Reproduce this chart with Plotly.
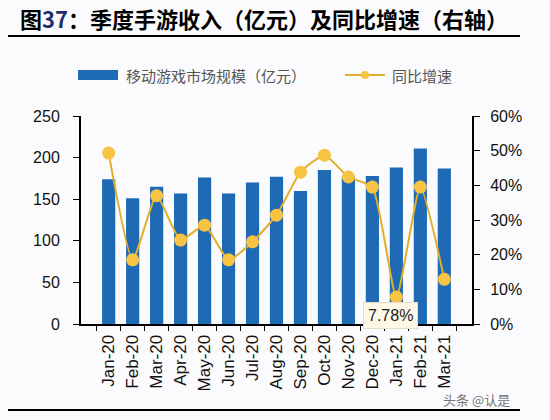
import plotly.graph_objects as go

months = ["Jan-20", "Feb-20", "Mar-20", "Apr-20", "May-20", "Jun-20", "Jul-20", "Aug-20",
          "Sep-20", "Oct-20", "Nov-20", "Dec-20", "Jan-21", "Feb-21", "Mar-21"]
revenue = [174, 151, 165, 157, 176, 157, 170, 177, 160, 185, 178, 178, 188, 211, 187]
yoy = [0.493, 0.185, 0.370, 0.242, 0.285, 0.185, 0.237, 0.314, 0.438, 0.487, 0.424,
       0.395, 0.0778, 0.395, 0.129]

title_text = "图<span style='color:#1F2F6B'>37</span>：季度手游收入（亿元）及同比增速（右轴）"
bar_name = "移动游戏市场规模（亿元）"
line_name = "同比增速"
callout = "7.78%"
watermark = "头条 @认是"

W, H = 550, 420
L, R, T, B = 81, 472, 116, 324


def px(x):
    return (x - L) / (R - L)


def py(y):
    return (B - y) / (B - T)


BLUE = "#1F6AB4"
GOLD = "#F6C342"
GOLD_LINE = "#E0AE2A"

fig = go.Figure()
fig.add_trace(go.Bar(x=months, y=revenue, name=bar_name, marker_color=BLUE,
                     marker_line_width=0, width=0.55, showlegend=False))
fig.add_trace(go.Scatter(x=months, y=yoy, name=line_name, yaxis="y2", mode="lines+markers",
                         line=dict(color=GOLD_LINE, width=2, shape="spline", smoothing=0.5),
                         marker=dict(color=GOLD, size=13), showlegend=False))

font_cjk = "Noto Sans CJK SC"
font_num = "Liberation Sans, Arial"

shapes = [
    dict(type="line", xref="paper", yref="paper", x0=px(8), x1=px(520), y0=py(36), y1=py(36),
         line=dict(color="black", width=2)),
    dict(type="line", xref="paper", yref="paper", x0=px(8), x1=px(520), y0=py(410), y1=py(410),
         line=dict(color="black", width=2)),
    dict(type="rect", xref="paper", yref="paper", x0=px(78), x1=px(118), y0=py(80), y1=py(70),
         fillcolor=BLUE, line=dict(width=0)),
    dict(type="line", xref="paper", yref="paper", x0=px(345), x1=px(385), y0=py(75), y1=py(75),
         line=dict(color=GOLD_LINE, width=2)),
    dict(type="circle", xref="paper", yref="paper", x0=px(361), x1=px(369), y0=py(79), y1=py(71),
         fillcolor=GOLD, line=dict(width=0)),
]

annotations = [
    dict(text="<b>" + title_text + "</b>", xref="paper", yref="paper", x=px(18), y=py(18),
         xanchor="left", yanchor="middle", showarrow=False,
         font=dict(family=font_cjk, size=22, color="black")),
    dict(text=bar_name, xref="paper", yref="paper", x=px(124), y=py(75), xanchor="left",
         yanchor="middle", showarrow=False, font=dict(family=font_cjk, size=15, color="#555555")),
    dict(text=line_name, xref="paper", yref="paper", x=px(390), y=py(75), xanchor="left",
         yanchor="middle", showarrow=False, font=dict(family=font_cjk, size=15, color="#555555")),
    dict(text=callout, x="Jan-21", xref="x", xshift=-6, yref="paper", y=py(315),
         xanchor="center", yanchor="middle", showarrow=False,
         font=dict(family=font_num, size=16, color="#222222"),
         bgcolor="#FFF8E8", bordercolor="#E6DCC4", borderwidth=1, borderpad=4),
    dict(text=watermark, xref="paper", yref="paper", x=px(512), y=py(399), xanchor="right",
         yanchor="middle", showarrow=False, font=dict(family=font_cjk, size=13, color="#777777")),
]

fig.update_layout(
    width=W, height=H,
    margin=dict(l=L, r=W - R, t=T, b=H - B),
    paper_bgcolor="#FBFBFD", plot_bgcolor="#FBFBFD",
    bargap=0.45,
    shapes=shapes, annotations=annotations,
    xaxis=dict(type="category", tickangle=-90, tickson="boundaries", ticks="outside",
               ticklen=5, tickcolor="black", showline=True, linecolor="black", linewidth=2,
               showgrid=False, ticklabelstandoff=2,
               tickfont=dict(family=font_num, size=17, color="#111111")),
    yaxis=dict(range=[0, 250], dtick=50, ticks="outside", ticklen=6, tickcolor="black",
               showline=True, linecolor="black", linewidth=2, showgrid=False, zeroline=False,
               ticklabelstandoff=10,
               tickfont=dict(family=font_num, size=16, color="#111111")),
    yaxis2=dict(range=[0, 0.6], dtick=0.1, tickformat=".0%", overlaying="y", side="right",
                ticks="outside", ticklen=6, tickcolor="black", showline=True,
                linecolor="black", linewidth=2, showgrid=False, zeroline=False,
                ticklabelstandoff=7,
                tickfont=dict(family=font_num, size=16, color="#111111")),
)

fig.write_html("out.html")
